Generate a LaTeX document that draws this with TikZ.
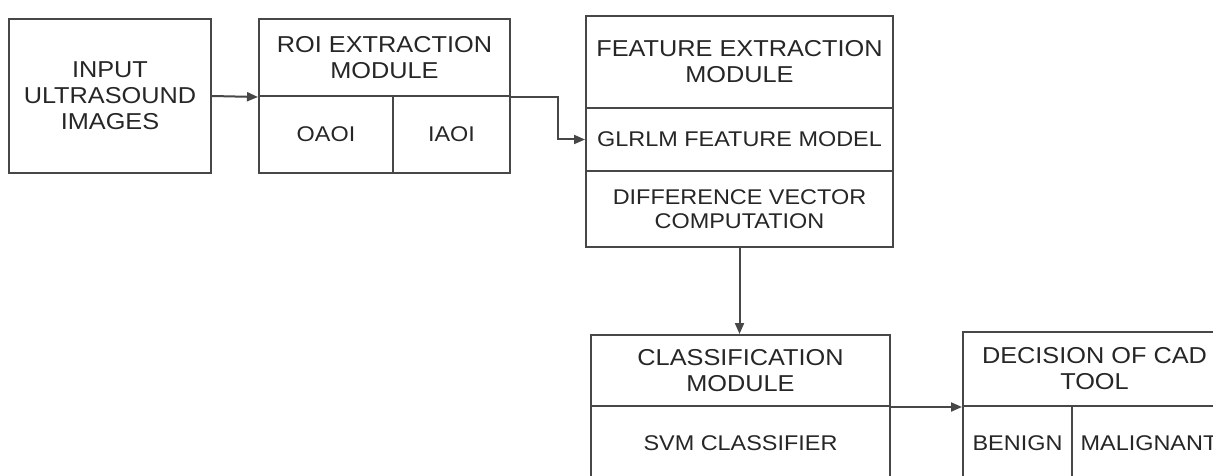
\documentclass[tikz,border=0pt]{standalone}
\usepackage{fontspec}
\setmainfont[FakeStretch=1.1]{Liberation Sans}
\usetikzlibrary{arrows.meta}
\colorlet{cellBorder}{black!72}
\colorlet{cellText}{black!85}
\tikzset{
  cell/.style={draw=cellBorder, line width=2pt, rectangle, inner sep=0pt,
    align=center, text=cellText, font=\fontsize{23}{26}\selectfont},
  subcell/.style={cell, font=\fontsize{21.3}{24}\selectfont},
  flow/.style={draw=cellBorder, line width=2pt, -{Triangle[length=11pt,width=9pt]}}
}
\newcommand{\modcell}[7][cell]{
  \pgfmathsetmacro{\cellw}{#5 - #3}
  \pgfmathsetmacro{\cellh}{#6 - #4}
  \pgfmathsetmacro{\cellx}{(#3 + #5) / 2}
  \pgfmathsetmacro{\celly}{(#4 + #6) / 2}
  \node[#1, minimum width=\cellw pt, minimum height=\cellh pt] (#2) at (\cellx, \celly) {#7};
}
\begin{document}
\begin{tikzpicture}[x=1pt, y=-1pt]
   \useasboundingbox (0,0) rectangle (1213,476);
   \clip (0,0) rectangle (1213,476);

   % input
   \modcell{inputimg}{9}{19}{211}{173}{INPUT\\ULTRASOUND\\IMAGES}

   % roi extraction
   \modcell{roihead}{259}{19}{510}{96}{ROI EXTRACTION\\MODULE}
   \modcell[subcell]{oaoi}{259}{96}{393}{173}{OAOI}
   \modcell[subcell]{iaoi}{393}{96}{510}{173}{IAOI}

   % feature extraction
   \modcell{feathead}{586}{16}{893}{108}{FEATURE EXTRACTION\\MODULE}
   \modcell[subcell]{glrlm}{586}{108}{893}{171}{GLRLM FEATURE MODEL}
   \modcell[subcell]{diffvec}{586}{171}{893}{247}{DIFFERENCE VECTOR\\COMPUTATION}

   % classification
   \modcell{classhead}{591}{335}{890}{406}{CLASSIFICATION\\MODULE}
   \modcell[subcell]{svmcls}{591}{406}{890}{480}{SVM CLASSIFIER}

   % decision
   \modcell{dechead}{963}{332}{1226}{406}{DECISION OF CAD\\TOOL}
   \modcell[subcell]{benign}{963}{406}{1072}{480}{BENIGN}
   \modcell[subcell]{malignant}{1072}{406}{1226}{480}{MALIGNANT}

   \draw[flow] (inputimg.east) -- (roihead.south west);
   \draw[flow] (roihead.south east) -- ++(47,0) |- (glrlm.west);
   \draw[flow] (diffvec.south) -- (diffvec.south |- classhead.north);
   \draw[flow] (classhead.south east) -- (dechead.south west);

\end{tikzpicture}
\end{document}
